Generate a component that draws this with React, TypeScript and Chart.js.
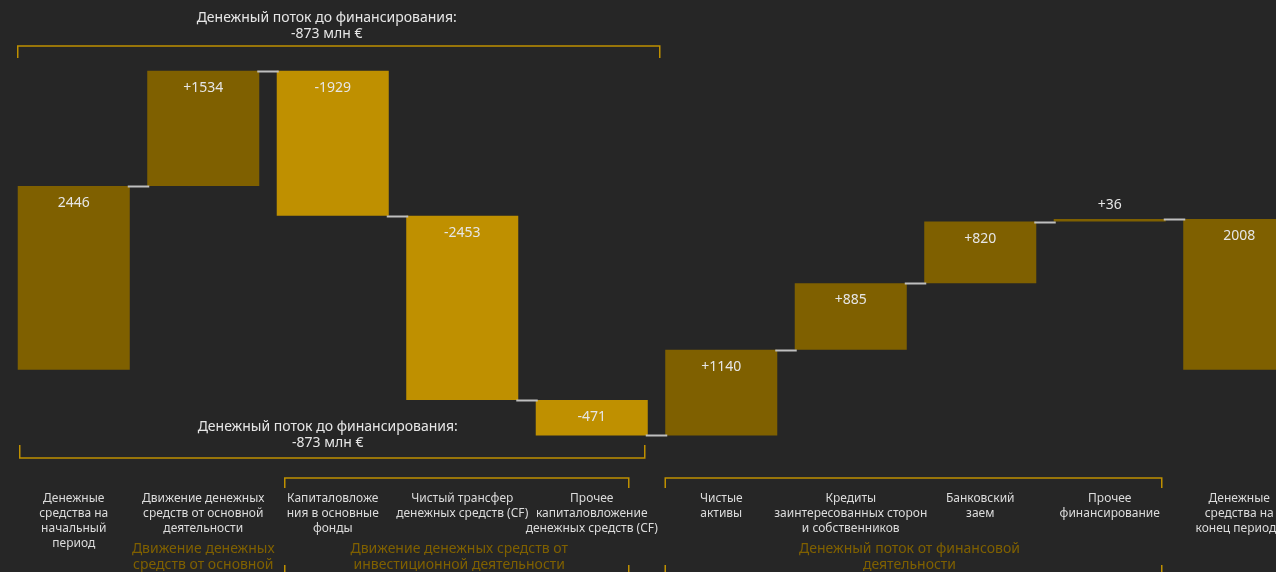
import { useEffect, useRef } from 'react';
import { Chart, registerables } from 'chart.js';

Chart.register(...registerables);

// ---------- data ----------
const categoryLabels: string[][] = [
  ['Денежные', 'средства на', 'начальный', 'период'],
  ['Движение денежных', 'средств от основной', 'деятельности'],
  ['Капиталовложе', 'ния в основные', 'фонды'],
  ['Чистый трансфер', 'денежных средств (CF)'],
  ['Прочее', 'капиталовложение', 'денежных средств (CF)'],
  ['Чистые', 'активы'],
  ['Кредиты', 'заинтересованных сторон', 'и собственников'],
  ['Банковский', 'заем'],
  ['Прочее', 'финансирование'],
  ['Денежные', 'средства на', 'конец периода'],
];
const changes: number[] = [2446, 1534, -1929, -2453, -471, 1140, 885, 820, 36, 2008];
const totalFlags: boolean[] = [true, false, false, false, false, false, false, false, false, true];
const investmentFlags: boolean[] = [false, false, true, true, true, false, false, false, false, false];

const operatingGroupLabel: string[] = ['Движение денежных', 'средств от основной', 'деятельности'];
const investmentGroupLabel: string[] = ['Движение денежных средств от', 'инвестиционной деятельности'];
const financingGroupLabel: string[] = ['Денежный поток от финансовой', 'деятельности'];
const preFinancingLabel: string[] = ['Денежный поток до финансирования:', '-873 млн €'];

// ---------- styles ----------
const BG = '#262626';
const DARK_GOLD = '#7F6000';
const GOLD = '#BF9000';
const TEXT = '#e6e6e6';
const LABEL_TEXT = '#dcdcdc';
const CONNECTOR = '#bfbfbf';
const FONT = '"Noto Sans", "Open Sans", sans-serif';

function buildRanges(): [number, number][] {
  const out: [number, number][] = [];
  let run = 0;
  changes.forEach((v, i) => {
    if (totalFlags[i]) {
      out.push([0, v]);
      run = v;
    } else {
      out.push([run, run + v]);
      run += v;
    }
  });
  return out;
}

function levels(): number[] {
  const out: number[] = [];
  let run = 0;
  changes.forEach((v, i) => {
    run = totalFlags[i] ? v : run + v;
    out.push(run);
  });
  return out;
}

function valueText(i: number): string {
  const v = changes[i];
  if (totalFlags[i]) return String(v);
  return (v > 0 ? '+' : '') + v;
}

const overlayPlugin = {
  id: 'waterfallOverlay',
  afterDatasetsDraw(chart: any) {
    const ctx: CanvasRenderingContext2D = chart.ctx;
    const meta = chart.getDatasetMeta(0);
    const y = chart.scales.y;
    const x = chart.scales.x;
    const lv = levels();
    ctx.save();
    // connectors
    ctx.strokeStyle = CONNECTOR;
    ctx.lineWidth = 2;
    for (let i = 0; i < meta.data.length - 1; i++) {
      const a = meta.data[i];
      const b = meta.data[i + 1];
      const yy = Math.round(y.getPixelForValue(lv[i])) + 0.5;
      ctx.beginPath();
      ctx.moveTo(a.x + a.width / 2 - 2, yy);
      ctx.lineTo(b.x - b.width / 2 + 2, yy);
      ctx.stroke();
    }
    // value labels
    ctx.fillStyle = TEXT;
    ctx.font = `14px ${FONT}`;
    ctx.textAlign = 'center';
    ctx.textBaseline = 'middle';
    meta.data.forEach((bar: any, i: number) => {
      const top = Math.min(bar.y, bar.base);
      const h = Math.abs(bar.base - bar.y);
      const ty = h < 30 ? top - 14 : top + 17;
      ctx.fillText(valueText(i), bar.x, ty);
    });

    // category labels
    ctx.fillStyle = LABEL_TEXT;
    ctx.font = `12px ${FONT}`;
    categoryLabels.forEach((lines, i) => {
      const cx = x.getPixelForValue(i);
      lines.forEach((ln, k) => ctx.fillText(ln, cx, 499 + k * 15));
    });

    // group labels
    ctx.fillStyle = DARK_GOLD;
    ctx.font = `14px ${FONT}`;
    const drawGroup = (lines: string[], cx: number) => {
      lines.forEach((ln, k) => ctx.fillText(ln, cx, 549 + k * 16));
    };
    drawGroup(operatingGroupLabel, x.getPixelForValue(1));
    drawGroup(investmentGroupLabel, (x.getPixelForValue(2) + x.getPixelForValue(4)) / 2 - 3);
    drawGroup(financingGroupLabel, (x.getPixelForValue(5) + x.getPixelForValue(8)) / 2 - 6);

    // group brackets
    ctx.strokeStyle = GOLD;
    ctx.lineWidth = 1.5;
    const groupBracket = (x1: number, x2: number) => {
      ctx.beginPath();
      ctx.moveTo(x1, 488);
      ctx.lineTo(x1, 478);
      ctx.lineTo(x2, 478);
      ctx.lineTo(x2, 488);
      ctx.stroke();
      ctx.beginPath();
      ctx.moveTo(x1, 565);
      ctx.lineTo(x1, 590);
      ctx.moveTo(x2, 565);
      ctx.lineTo(x2, 590);
      ctx.stroke();
    };
    groupBracket(x.getPixelForValue(2) - 48, x.getPixelForValue(4) + 37);
    groupBracket(x.getPixelForValue(5) - 56, x.getPixelForValue(8) + 52);

    // pre-financing brackets (top & bottom)
    const b0 = meta.data[0];
    const b4 = meta.data[4];
    const left = b0.x - b0.width / 2;
    const right = b4.x + b4.width / 2;
    ctx.beginPath();
    ctx.moveTo(left, 58);
    ctx.lineTo(left, 46);
    ctx.lineTo(right + 12, 46);
    ctx.lineTo(right + 12, 58);
    ctx.stroke();
    ctx.beginPath();
    ctx.moveTo(left + 2, 445);
    ctx.lineTo(left + 2, 458);
    ctx.lineTo(right - 3, 458);
    ctx.lineTo(right - 3, 445);
    ctx.stroke();

    ctx.fillStyle = TEXT;
    ctx.font = `14px ${FONT}`;
    const tcx = x.getPixelForValue(2) - 6;
    preFinancingLabel.forEach((ln, k) => ctx.fillText(ln, tcx, 18 + k * 16));
    preFinancingLabel.forEach((ln, k) => ctx.fillText(ln, tcx + 1, 427 + k * 16));
    ctx.restore();
  },
};

export default function App() {
  const canvasRef = useRef<HTMLCanvasElement | null>(null);

  useEffect(() => {
    let chart: Chart | null = null;
    let cancelled = false;
    const make = () => {
      if (cancelled || !canvasRef.current) return;
      chart = new Chart(canvasRef.current, {
        type: 'bar',
        data: {
          labels: categoryLabels.map((l) => l.join(' ')),
          datasets: [
            {
              data: buildRanges() as any,
              backgroundColor: changes.map((_, i) => (investmentFlags[i] ? GOLD : DARK_GOLD)),
              borderWidth: 0,
              barPercentage: 1,
              categoryPercentage: 0.865,
            },
          ],
        },
        options: {
          animation: false,
          responsive: true,
          maintainAspectRatio: false,
          layout: { padding: { left: 9, right: 6, top: 0, bottom: 0 } },
          plugins: { legend: { display: false }, tooltip: { enabled: false } },
          scales: {
            x: { display: false },
            y: { display: false, min: -2690, max: 4920 },
          },
        },
        plugins: [overlayPlugin],
      });
    };
    const fonts = (document as any).fonts;
    if (fonts && fonts.load) {
      Promise.all([fonts.load(`14px ${FONT}`), fonts.load(`12px ${FONT}`)])
        .catch(() => null)
        .then(make);
    } else {
      make();
    }
    return () => {
      cancelled = true;
      if (chart) chart.destroy();
    };
  }, []);

  return (
    <div
      style={{
        position: 'fixed',
        left: 0,
        top: 0,
        width: 1276,
        height: 572,
        overflow: 'hidden',
        background: BG,
      }}
    >
      <div style={{ position: 'relative', width: 1310, height: 572 }}>
        <canvas ref={canvasRef} />
      </div>
    </div>
  );
}
